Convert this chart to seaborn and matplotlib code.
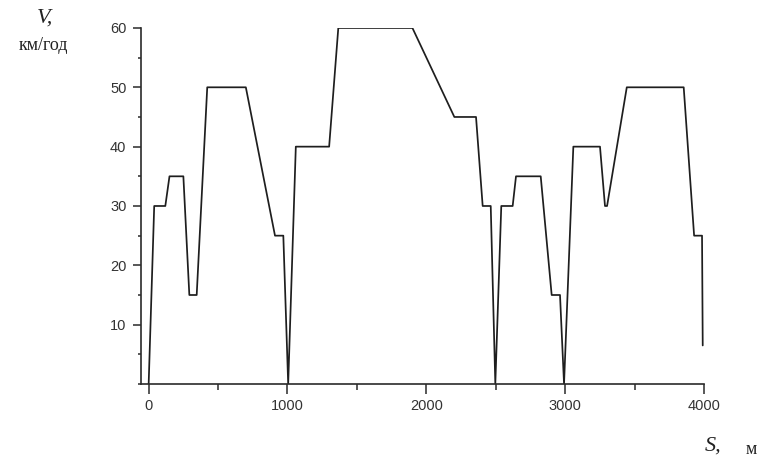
import numpy as np
import pandas as pd
import matplotlib
matplotlib.use("Agg")
import matplotlib.pyplot as plt
import seaborn as sns
from matplotlib.ticker import MultipleLocator

# distance along the route, m
s_m = [0, 40, 120, 150, 250, 293, 346, 422, 700, 910, 970, 1005, 1060,
       1300, 1366, 1900, 2202, 2358, 2406, 2464, 2497, 2540, 2622, 2646,
       2824, 2903, 2963, 2992, 3059, 3251, 3287, 3302, 3444, 3854, 3929,
       3986, 3991]
# speed, km/h
v_kmh = [0, 30, 30, 35, 35, 15, 15, 50, 50, 25, 25, 0, 40,
         40, 60, 60, 45, 45, 30, 30, 0, 30, 30, 35,
         35, 15, 15, 0, 40, 40, 30, 30, 50, 50, 25,
         25, 6.5]

x_ticks = [0, 1000, 2000, 3000, 4000]
y_ticks = [10, 20, 30, 40, 50, 60]

df = pd.DataFrame({"S": s_m, "V": v_kmh})

sns.set_style("ticks")
plt.rcParams["font.family"] = ["Liberation Sans", "DejaVu Sans"]

fig = plt.figure(figsize=(7.59, 4.63), dpi=100)
ax = fig.add_axes([0.1858, 0.1706, 0.7417, 0.769])

sns.lineplot(data=df, x="S", y="V", sort=False, estimator=None,
             color="#1e1e1e", linewidth=1.25, ax=ax)

ax.set_xlim(-55, 4000)
ax.set_ylim(0, 60)
ax.set_xticks(x_ticks)
ax.set_yticks(y_ticks)
ax.xaxis.set_minor_locator(MultipleLocator(500))
ax.yaxis.set_minor_locator(MultipleLocator(5))
ax.set_xlabel("")
ax.set_ylabel("")

sns.despine(ax=ax)
for sp in ["left", "bottom"]:
    ax.spines[sp].set_linewidth(1.2)
    ax.spines[sp].set_color("#2a2a2a")

ax.tick_params(axis="x", which="major", length=7, width=1.1, color="#2a2a2a",
               labelsize=10.5, labelcolor="#333333", pad=4)
ax.tick_params(axis="x", which="minor", length=4, width=1.1, color="#2a2a2a")
ax.tick_params(axis="y", which="major", length=5.5, width=1.1, color="#2a2a2a",
               labelsize=10.5, labelcolor="#333333", pad=5)
ax.tick_params(axis="y", which="minor", length=2.5, width=1.1, color="#2a2a2a")

serif = ["Liberation Serif", "DejaVu Serif"]
fig.text(45 / 759, 1 - 18 / 463, "V,", family=serif, style="italic",
         fontsize=16, ha="center", va="center", color="#222222")
fig.text(43 / 759, 1 - 46 / 463, "км/год", family=serif,
         fontsize=13, ha="center", va="center", color="#222222")
fig.text(713 / 759, 1 - 446 / 463, "S,", family=serif, style="italic",
         fontsize=16, ha="center", va="center", color="#222222")
fig.text(751 / 759, 1 - 449 / 463, "м", family=serif,
         fontsize=13, ha="center", va="center", color="#222222")

fig.savefig("out.png", dpi=100)
